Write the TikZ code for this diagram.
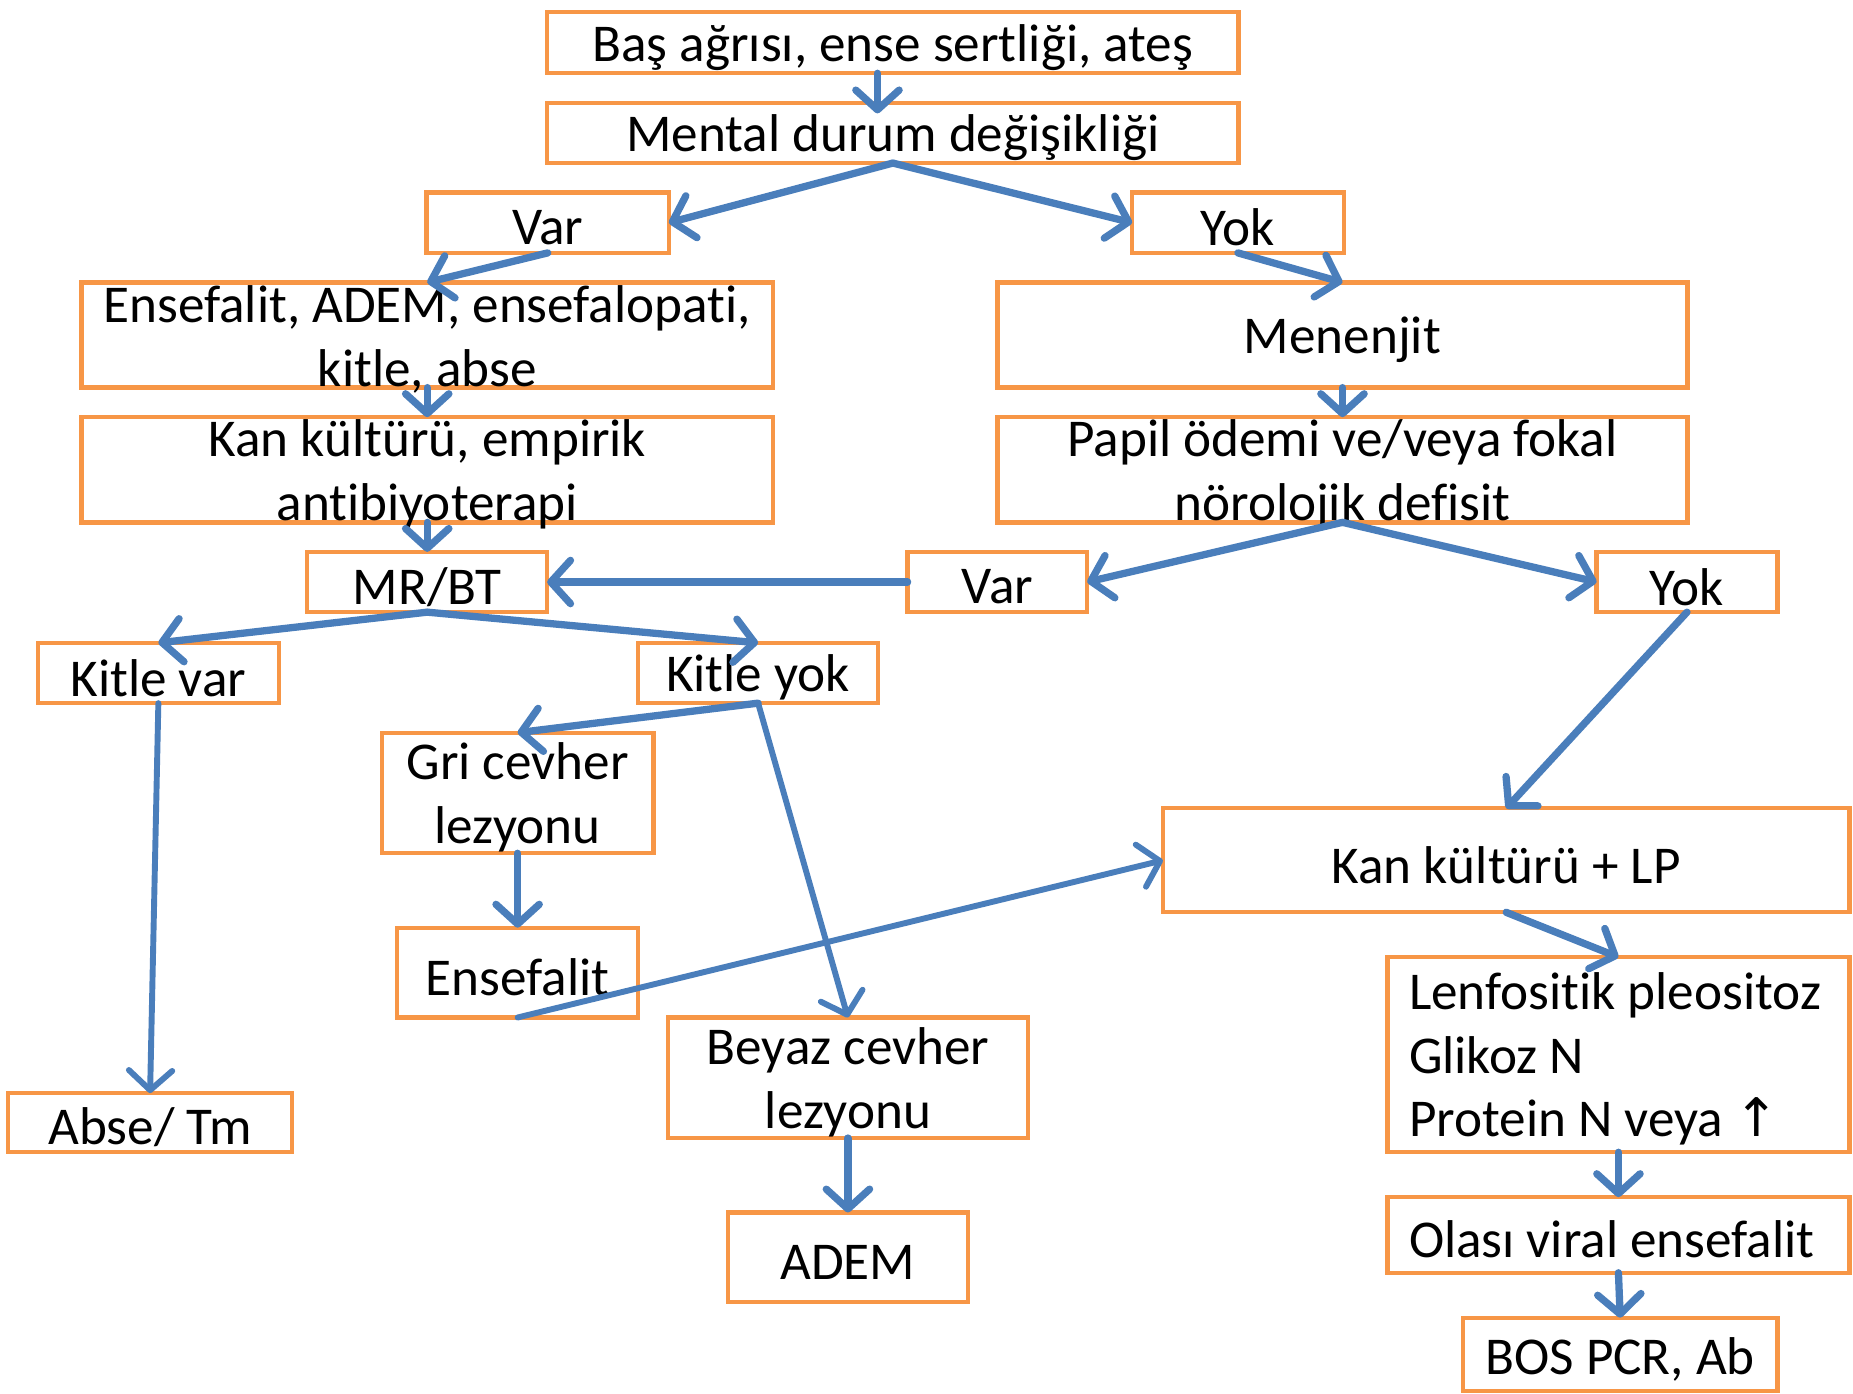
\documentclass[tikz,border=0pt]{standalone}
\usepackage{fontspec}
\setmainfont{Carlito}[Ligatures={NoCommon,NoContextual},RawFeature={-liga;-clig;-dlig}]
\newfontfamily\symfont{DejaVu Sans}
\usetikzlibrary{arrows.meta,calc}
\definecolor{bxor}{HTML}{F79646}
\definecolor{arb}{HTML}{4A7EBB}
\newcommand\bx[6]{%
  \node[box,minimum width={(#4-#2)*0.6pt},minimum height={(#5-#3)*0.6pt}] (#1) at ({(#2+#4)/2},{(#3+#5)/2}) {};
  \node[txt] (#1-t) at (#1) {#6};}
\begin{document}
\begin{tikzpicture}[x=0.6pt,y=-0.6pt,
  box/.style={draw=bxor,line width=2.2pt,fill=white,inner sep=0pt,outer sep=0pt,rectangle},
  txt/.style={font=\fontsize{27}{32.4}\selectfont,align=center,inner sep=0pt,yshift=-2.4pt},
  arr/.style={draw=arb,line width=3.7pt,line cap=round,-{Straight Barb[length=10pt,width=22pt,line cap=round,line join=round]}},
  thinarr/.style={line width=3pt}]
\fill[white] (0,0) rectangle (1568,1179);
\useasboundingbox (0,0) rectangle (1568,1179);

\bx{b1}{463}{10}{1048}{62}{Baş ağrısı, ense sertliği, ateş}
\bx{b2}{463}{87}{1048}{138}{Mental durum değişikliği}
\bx{b3}{361}{163}{566}{214}{Var}
\bx{b4}{958}{163}{1137}{214}{Yok}
\bx{b5}{69}{239}{654}{328}{Ensefalit, ADEM, ensefalopati,\\kitle, abse}
\bx{b6}{844}{239}{1428}{328}{Menenjit}
\bx{b7}{69}{353}{654}{442}{Kan kültürü, empirik\\antibiyoterapi}
\bx{b8}{844}{353}{1428}{442}{Papil ödemi ve/veya fokal\\nörolojik defisit}
\bx{b9}{260}{467}{463}{518}{MR/BT}
\bx{b10}{768}{467}{920}{518}{Var}
\bx{b11}{1351}{467}{1504}{518}{Yok}
\bx{b12}{32}{544}{236}{595}{Kitle var}
\bx{b13}{540}{544}{743}{595}{Kitle yok}
\bx{b14}{323}{620}{553}{722}{Gri cevher\\lezyonu}
\bx{b15}{984}{684}{1565}{772}{Kan kültürü + LP}
\bx{b16}{336}{785}{540}{861}{Ensefalit}
\bx{b17}{565}{861}{870}{963}{Beyaz cevher\\lezyonu}
\bx{b18}{7}{925}{247}{975}{Abse/ Tm}
\bx{b19}{1174}{810}{1565}{975}{}
\node[txt,align=left,anchor=west] (b19-l) at (1192,892) {Lenfositik pleositoz\\Glikoz N\\Protein N veya {\symfont ↑}};
\bx{b20}{616}{1026}{819}{1102}{ADEM}
\bx{b21}{1174}{1013}{1565}{1077}{}
\node[txt,align=left,anchor=west] (b21-l) at (1192,1045) {Olası viral ensefalit};
\bx{b22}{1238}{1115}{1504}{1177}{BOS PCR, Ab}

\draw[arr] ($(b1.south)+(-13,0)$) -- ($(b2.north)+(-13,9)$);
\draw[arr] (b2.south) -- (b3.east);
\draw[arr] (b2.south) -- (b4.west);
\draw[arr] (b3.south) -- (b5.north);
\draw[arr] (b4.south) -- (b6.north);
\draw[arr] (b5.south) -- (b7.north);
\draw[arr] (b6.south) -- (b8.north);
\draw[arr] (b7.south) -- (b9.north);
\draw[arr] (b8.south) -- (b10.east);
\draw[arr] (b8.south) -- (b11.west);
\draw[arr] (b10.west) -- (b9.east);
\draw[arr] (b9.south) -- (b12.north);
\draw[arr] (b9.south) -- (b13.north);
\draw[arr] (b13.south) -- (b14.north);
\draw[arr,thinarr] (b13.south) -- (b17.north);
\draw[arr,thinarr] (b12.south) -- (b18.north);
\draw[arr] (b14.south) -- (b16.north);
\draw[arr,thinarr] (b16.south) -- (b15.west);
\draw[arr] (b11.south) -- (b15.north);
\draw[arr] (b15.south) -- (b19.north);
\draw[arr] (b19.south) -- (b21.north);
\draw[arr] (b21.south) -- (b22.north);
\draw[arr] (b17.south) -- (b20.north);
\end{tikzpicture}
\end{document}
